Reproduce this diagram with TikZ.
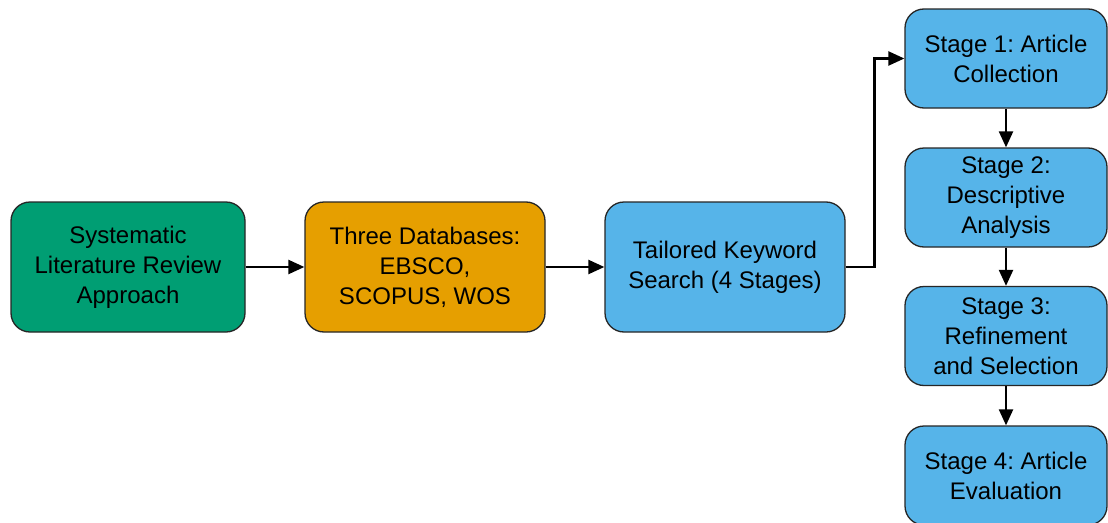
\documentclass[tikz,border=0pt]{standalone}
\usepackage{fontspec}
\setmainfont{Liberation Sans}
\usetikzlibrary{arrows.meta}
\definecolor{slrgreen}{HTML}{009E73}
\definecolor{dborange}{HTML}{E69F00}
\definecolor{stageblue}{HTML}{56B4E9}
\frenchspacing
\begin{document}
\begin{tikzpicture}[x=1pt,y=-1pt,
  box/.style={draw=black!85, line width=1.3pt, rounded corners=19pt,
    inner sep=0pt, align=center, text=black,
    font=\fontsize{24}{30}\selectfont},
  mainbox/.style={box, minimum width=240pt, minimum height=130pt},
  stagebox/.style={box, fill=stageblue, minimum width=202pt, minimum height=99pt},
  flow/.style={line width=2.3pt, -{Triangle[length=16pt,width=14pt]}}]
  \clip (0,0) rectangle (1108,522);
  \fill[white] (0,0) rectangle (1108,522);

  % main pipeline
  \node[mainbox, fill=slrgreen, minimum width=234pt] (slr) at (128,267)
    {Systematic\\Literature Review\\Approach};
  \node[mainbox, fill=dborange] (db) at (425,267)
    {Three Databases:\\EBSCO,\\SCOPUS, WOS};
  \node[mainbox, fill=stageblue] (kw) at (725,267)
    {Tailored Keyword\\Search (4 Stages)};

  % search stages
  \node[stagebox] (s1) at (1006,58.5) {Stage 1: Article\\Collection};
  \node[stagebox] (s2) at (1006,197.5) {Stage 2:\\Descriptive\\Analysis};
  \node[stagebox] (s3) at (1006,336) {Stage 3:\\Refinement\\and Selection};
  \node[stagebox] (s4) at (1006,475.5) {Stage 4: Article\\Evaluation};

  % connectors
  \draw[flow] (slr.east) -- (db.west);
  \draw[flow] (db.east) -- (kw.west);
  \draw[flow] (kw.east) -- ([xshift=-30pt]s1.west |- kw.east) |- (s1.west);
  \draw[flow] (s1.south) -- (s2.north);
  \draw[flow] (s2.south) -- (s3.north);
  \draw[flow] (s3.south) -- (s4.north);
\end{tikzpicture}
\end{document}
